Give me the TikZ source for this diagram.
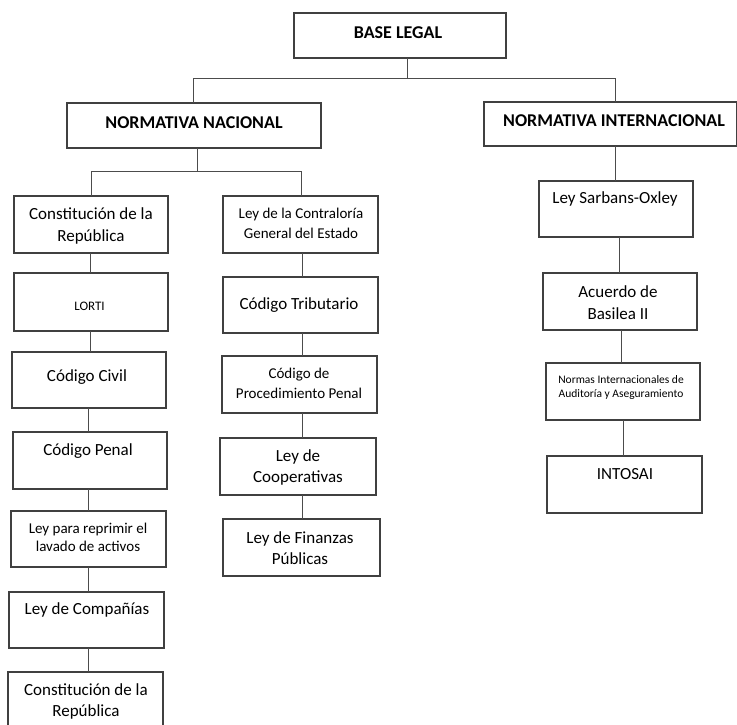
\documentclass[tikz,border=0pt]{standalone}
\usepackage{fontspec}
\setmainfont{Carlito}
\begin{document}
\begin{tikzpicture}[x=1pt,y=-1pt,
  box/.style={draw=black!75, line width=1.1pt, inner sep=0pt, outer sep=0pt},
  conn/.style={draw=black!70, line width=0.9pt},
  lbl/.style={align=center, inner sep=0pt, text=black},
  head/.style={lbl, text=black, font=\bfseries\fontsize{18}{20}\selectfont},
  big/.style={lbl, font=\fontsize{17}{21.5}\selectfont},
  mid/.style={lbl, font=\fontsize{15}{20}\selectfont},
  sml/.style={lbl, font=\fontsize{11.5}{14}\selectfont}]
\useasboundingbox (0,0) rectangle (737,725);

% boxes
\node[box, minimum width=212, minimum height=45] (base) at (400,35.5) {};
\node[box, minimum width=254, minimum height=45] (nn) at (194,125.5) {};
\node[box, minimum width=252.5, minimum height=44] (ni) at (610.25,124) {};

\node[box, minimum width=154, minimum height=57] (c1) at (91,224.5) {};
\node[box, minimum width=154, minimum height=58] (c2) at (91,302) {};
\node[box, minimum width=154, minimum height=56] (c3) at (89,380) {};
\node[box, minimum width=154, minimum height=57] (c4) at (90,460.5) {};
\node[box, minimum width=155, minimum height=56] (c5) at (88.5,539) {};
\node[box, minimum width=155, minimum height=56] (c6) at (86.5,620) {};
\node[box, minimum width=155, minimum height=57] (c7) at (85.5,700.5) {};

\node[box, minimum width=155, minimum height=57] (r1) at (300.5,224.5) {};
\node[box, minimum width=155, minimum height=56] (r2) at (300.5,305) {};
\node[box, minimum width=155, minimum height=57] (r3) at (299.5,384.5) {};
\node[box, minimum width=156, minimum height=57] (r4) at (298,466.5) {};
\node[box, minimum width=157, minimum height=57] (r5) at (301.5,547.5) {};

\node[box, minimum width=154, minimum height=56] (i1) at (616,209) {};
\node[box, minimum width=154, minimum height=57] (i2) at (620,301.5) {};
\node[box, minimum width=154, minimum height=57] (i3) at (623,391.5) {};
\node[box, minimum width=155, minimum height=57] (i4) at (624.5,484.5) {};

% texts
\node[head] (tbase) at (398,33) {BASE LEGAL};
\node[head] (tnn) at (194,123) {NORMATIVA NACIONAL};
\node[head] (tni) at (614,121) {NORMATIVA INTERNACIONAL};

\node[big] (tc1) at (91,226) {Constitución de la\\República};
\node[lbl, font=\fontsize{13}{15}\selectfont] (tc2) at (89.5,306) {LORTI};
\node[big] (tc3) at (87,377) {Código Civil};
\node[big] (tc4) at (88,451) {Código Penal};
\node[mid, font=\fontsize{15}{18}\selectfont] (tc5) at (88,537) {Ley para reprimir el\\lavado de activos};
\node[big] (tc6) at (87,610) {Ley de Compañías};
\node[big] (tc7) at (86,701.5) {Constitución de la\\República};

\node[mid] (tr1) at (301,223) {Ley de la Contraloría\\General del Estado};
\node[big] (tr2) at (299,305) {Código Tributario};
\node[mid] (tr3) at (299,383.5) {Código de\\Procedimiento Penal};
\node[big] (tr4) at (298,467.5) {Ley de\\Cooperativas};
\node[big] (tr5) at (300,548) {Ley de Finanzas\\Públicas};

\node[big] (ti1) at (615,199) {Ley Sarbans-Oxley};
\node[big] (ti2) at (618,302.5) {Acuerdo de\\Basilea II};
\node[sml] (ti3) at (621,387) {Normas Internacionales de\\Auditoría y Aseguramiento};
\node[big] (ti4) at (625,474) {INTOSAI};

% connectors
\coordinate (b1) at (193,78);
\coordinate (b2) at (615,78);
\draw[conn] ([xshift=7pt]base.south) -- ([xshift=7pt]base.south |- b1);
\draw[conn] (nn.north -| b1) |- (b2) -- (ni.north -| b2);

\coordinate (n1) at (91,171);
\coordinate (n2) at (301,171);
\draw[conn] ([xshift=3pt]nn.south) -- ([xshift=3pt]nn.south |- n1);
\draw[conn] (c1.north -| n1) |- (n2) -- (r1.north -| n2);

\draw[conn] ([xshift=-1pt]c1.south) -- ([xshift=-1pt]c1.south |- c2.north);
\draw[conn] ([xshift=-1pt]c2.south) -- ([xshift=-1pt]c2.south |- c3.north);
\draw[conn] ([xshift=-1pt]c3.south) -- ([xshift=-1pt]c3.south |- c4.north);
\draw[conn] ([xshift=-2pt]c4.south) -- ([xshift=-2pt]c4.south |- c5.north);
\draw[conn] (c5.south) -- (c5.south |- c6.north);
\draw[conn] ([xshift=1.5pt]c6.south) -- ([xshift=1.5pt]c6.south |- c7.north);

\draw[conn] ([xshift=1.5pt]r1.south) -- ([xshift=1.5pt]r1.south |- r2.north);
\draw[conn] ([xshift=1.5pt]r2.south) -- ([xshift=1.5pt]r2.south |- r3.north);
\draw[conn] ([xshift=2.5pt]r3.south) -- ([xshift=2.5pt]r3.south |- r4.north);
\draw[conn] ([xshift=4pt]r4.south) -- ([xshift=4pt]r4.south |- r5.north);

\draw[conn] ([xshift=-1pt]i1.north) -- ([xshift=-1pt]i1.north |- ni.south);
\draw[conn] ([xshift=3pt]i1.south) -- ([xshift=3pt]i1.south |- i2.north);
\draw[conn] ([xshift=1pt]i2.south) -- ([xshift=1pt]i2.south |- i3.north);
\draw[conn] (i3.south) -- (i3.south |- i4.north);
\end{tikzpicture}
\end{document}
